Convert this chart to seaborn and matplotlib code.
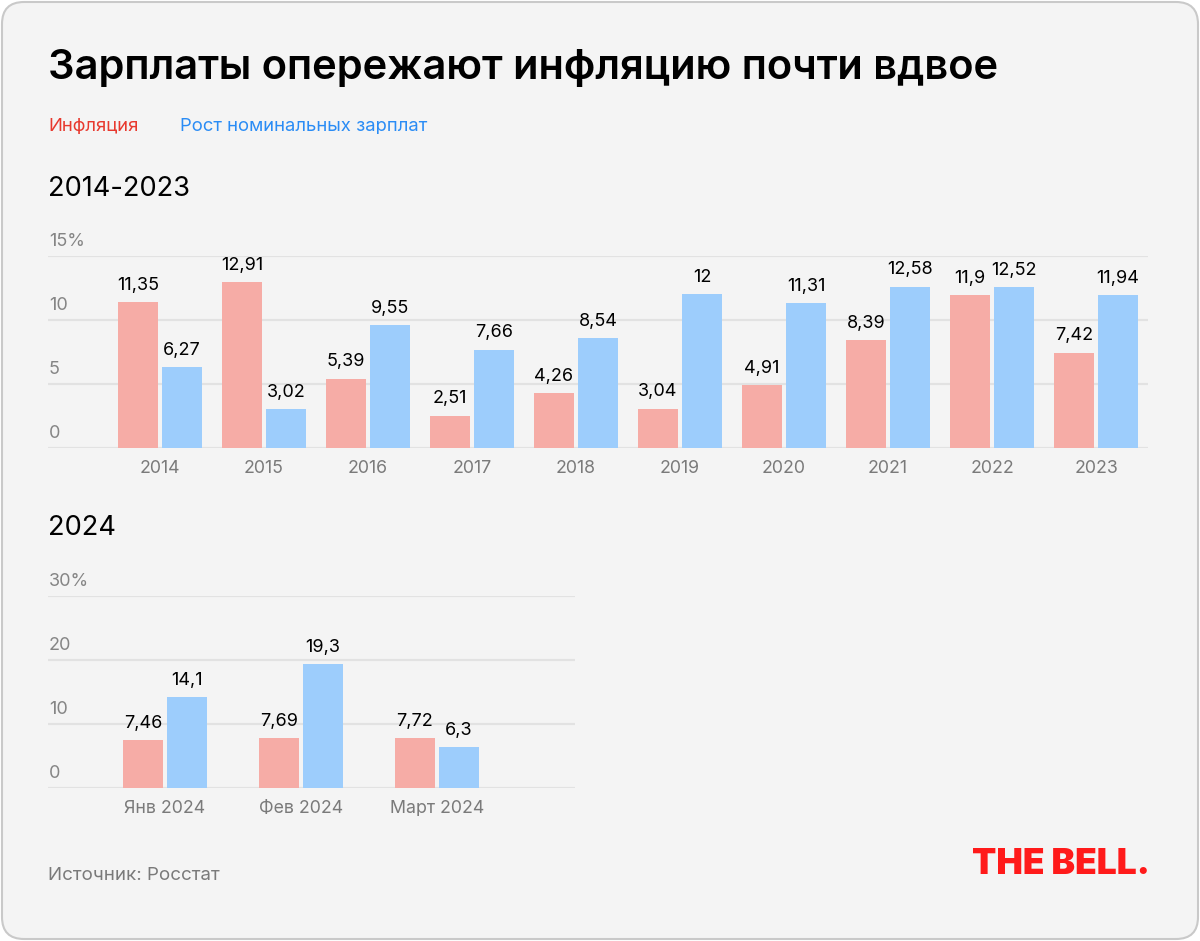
import matplotlib
matplotlib.use("Agg")
import matplotlib.pyplot as plt
import seaborn as sns
import pandas as pd
from matplotlib.patches import FancyBboxPatch
from matplotlib.transforms import IdentityTransform

# ---- data ----
years = ["2014", "2015", "2016", "2017", "2018", "2019", "2020", "2021", "2022", "2023"]
inflation_years = [11.35, 12.91, 5.39, 2.51, 4.26, 3.04, 4.91, 8.39, 11.9, 7.42]
wages_years = [6.27, 3.02, 9.55, 7.66, 8.54, 12, 11.31, 12.58, 12.52, 11.94]

months = ["Янв 2024", "Фев 2024", "Март 2024"]
inflation_months = [7.46, 7.69, 7.72]
wages_months = [14.1, 19.3, 6.3]

series_names = ["Инфляция", "Рост номинальных зарплат"]
yticks_top = [0, 5, 10, 15]
yticklabels_top = ["0", "5", "10", "15%"]
yticks_bottom = [0, 10, 20, 30]
yticklabels_bottom = ["0", "10", "20", "30%"]

title = "Зарплаты опережают инфляцию почти вдвое"
subtitle_top = "2014-2023"
subtitle_bottom = "2024"
source = "Источник: Росстат"
logo = "THE BELL."

# ---- style ----
sns.set_theme(style="white")
plt.rcParams["font.family"] = ["Inter", "DejaVu Sans"]

bar_colors = {series_names[0]: "#f6aca6", series_names[1]: "#9dcdfc"}
legend_colors = ["#e8392e", "#2a8cf5"]
grid_color = "#e2e2e2"
tick_color = "#7a7a7a"

W, H = 1200, 941
fig = plt.figure(figsize=(W / 100, H / 100), dpi=100)
fig.patch.set_facecolor("white")
card = FancyBboxPatch((2, 2), W - 4, H - 4,
                      boxstyle="round,pad=0,rounding_size=22",
                      transform=IdentityTransform(),
                      facecolor="#f4f4f4", edgecolor="#c9c9c9", lw=1.5, zorder=-10)
fig.add_artist(card)


def fx(px):
    return px / W


def fy(py):
    return 1 - py / H


def make_df(cats, a, b):
    return pd.DataFrame({
        "cat": cats * 2,
        "series": [series_names[0]] * len(cats) + [series_names[1]] * len(cats),
        "value": list(a) + list(b),
    })


def fmt(v):
    return f"{v:g}".replace(".", ",")


def draw_panel(ax, df, cats, yticks, ylabels, ymax, xlim, width):
    sns.barplot(data=df, x="cat", y="value", hue="series", palette=bar_colors,
                order=cats, hue_order=series_names, width=width, gap=0.09,
                saturation=1, legend=False, ax=ax, zorder=3, linewidth=0)
    ax.set_facecolor("none")
    ax.set_ylim(0, ymax)
    ax.set_xlim(*xlim)
    ax.set_yticks(yticks)
    ax.tick_params(axis="y", left=False, labelleft=False)
    ax.tick_params(axis="x", bottom=False, labelsize=12.8, labelcolor=tick_color, pad=3)
    ax.grid(axis="y", color=grid_color, lw=1.6, zorder=0)
    ax.grid(axis="x", visible=False)
    for s in ax.spines.values():
        s.set_visible(False)
    ax.set_xlabel("")
    ax.set_ylabel("")
    for v, lbl in zip(yticks, ylabels):
        ax.annotate(lbl, xy=(0, v), xycoords=ax.get_yaxis_transform(),
                    xytext=(1, 14), textcoords="offset pixels",
                    ha="left", va="center", fontsize=13, color="#858585")
    for cont in ax.containers:
        vals = [b.get_height() for b in cont]
        ax.bar_label(cont, labels=[fmt(v) for v in vals], padding=6,
                     fontsize=13, color="black")


# top panel
ax1 = fig.add_axes([fx(48), fy(447.7), fx(1148 - 48), (447.7 - 255.7) / H])
draw_panel(ax1, make_df(years, inflation_years, wages_years), years,
           yticks_top, yticklabels_top, 15, (-1.077, 9.5), 0.846)

# bottom panel
ax2 = fig.add_axes([fx(48), fy(787.7), fx(575 - 48), (787.7 - 595.7) / H])
draw_panel(ax2, make_df(months, inflation_months, wages_months), months,
           yticks_bottom, yticklabels_bottom, 30, (-0.86, 3.015), 0.647)

# texts
fig.text(fx(48), fy(68), title, fontsize=30.0, fontweight="semibold",
         color="black", ha="left", va="center")
fig.text(fx(48), fy(126), series_names[0], fontsize=13.3, color=legend_colors[0],
         ha="left", va="center")
fig.text(fx(180), fy(126), series_names[1], fontsize=13.3, color=legend_colors[1],
         ha="left", va="center")
fig.text(fx(48), fy(189), subtitle_top, fontsize=19.6, color="black",
         ha="left", va="center")
fig.text(fx(48), fy(528), subtitle_bottom, fontsize=19.6, color="black",
         ha="left", va="center")
fig.text(fx(48), fy(875), source, fontsize=13.5, color="#7a7a7a",
         ha="left", va="center")
fig.text(fx(1150), fy(865), logo, fontsize=25.5, fontweight="black",
         color="#ff1a1a", ha="right", va="center", fontstretch="condensed")

fig.savefig("out.png", dpi=100, facecolor="white")
